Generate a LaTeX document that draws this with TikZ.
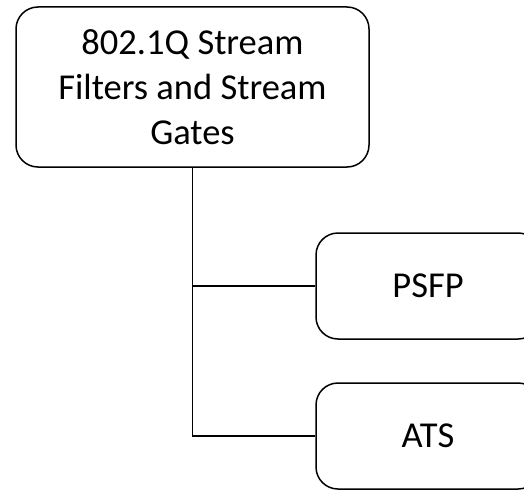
\documentclass[tikz,border=0pt]{standalone}
\usepackage{fontspec}
\setmainfont{Carlito}
\usepackage{tikz}

\tikzset{
  box/.style={draw=black, line width=1.5pt, rounded corners=22pt, align=center,
    inner sep=0pt, font=\fontsize{36.5}{45}\selectfont},
  link/.style={draw=black, line width=1.5pt}
}

\begin{document}
\begin{tikzpicture}[x=1pt,y=-1pt]
        \useasboundingbox (0,0) rectangle (524,492);
        \node[box, minimum width=353pt, minimum height=160pt] (top) at (192.5,87)
        {802.1Q Stream\\Filters and Stream\\Gates};
        \node[box, minimum width=224pt, minimum height=106pt] (psfp) at (428,286) {PSFP};
        \node[box, minimum width=224pt, minimum height=106pt] (ats) at (428,436) {ATS};
        \draw[link] (top.south) -- (top.south |- ats.west) -- (ats.west);
        \draw[link] (top.south |- psfp.west) -- (psfp.west);
        \end{tikzpicture}
\end{document}
